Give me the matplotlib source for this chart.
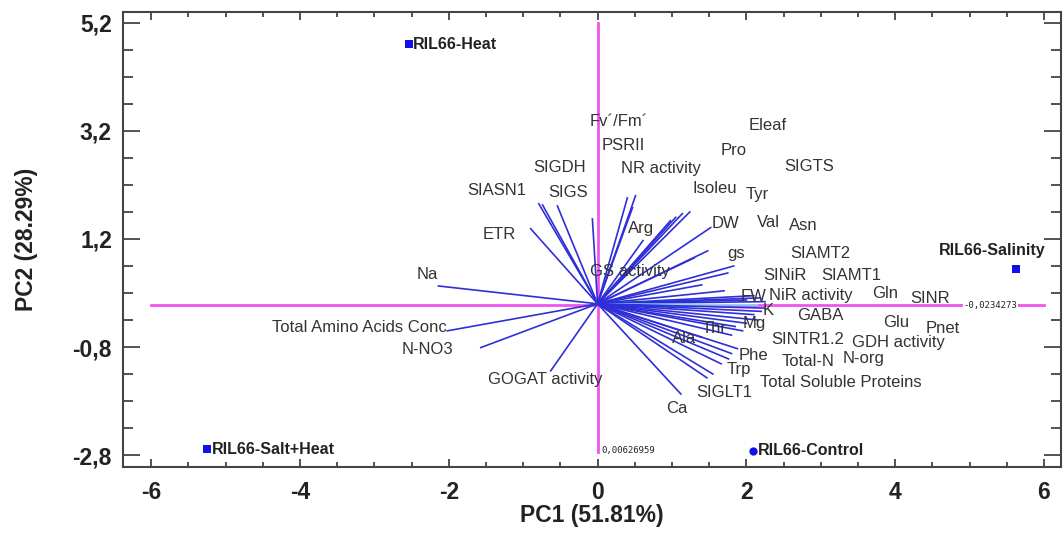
import numpy as np
import matplotlib
matplotlib.use("Agg")
import matplotlib.pyplot as plt
from matplotlib.ticker import FixedLocator, MultipleLocator

plt.rcParams['font.family'] = ['Liberation Sans', 'DejaVu Sans']

# variable loadings (vector ends) and where the software put their labels
var_names = ["Na", "Total Amino Acids Conc", "N-NO3", "GOGAT activity", "ETR",
             "SIASN1", "SIGDH", "SIGS", "GS activity", "Fv´/Fm´", "PSRII",
             "NR activity", "Arg", "Isoleu", "Eleaf", "Pro", "Tyr", "DW", "SIGTS",
             "Val", "Asn", "gs", "SIAMT2", "SINiR", "SIAMT1", "FW", "NiR activity",
             "Gln", "SINR", "K", "Pnet", "GABA", "Mg", "Glu", "Thr", "SINTR1.2",
             "GDH activity", "Ala", "Phe", "N-org", "Total-N", "Trp",
             "Total Soluble Proteins", "SIGLT1", "Ca"]
pc1_load = [-2.14, -2.02, -1.57, -0.63, -0.90,
            -0.79, -0.74, -0.54, -0.07, 0.51, 0.40,
            0.47, 0.61, 0.98, 1.14, 1.24, 1.05, 1.52, 1.48,
            1.30, 1.75, 1.83, 1.70, 1.40, 2.10, 2.19, 2.00,
            2.25, 2.15, 2.25, 2.20, 2.10, 2.15, 2.00, 1.85, 1.95,
            1.80, 1.40, 1.88, 1.80, 1.76, 1.66,
            1.55, 1.47, 1.12]
pc2_load = [0.33, -0.50, -0.81, -1.24, 1.39,
            1.85, 1.83, 1.81, 1.57, 2.00, 1.96,
            1.78, 1.17, 1.54, 1.67, 1.70, 1.60, 1.41, 0.98,
            0.85, 0.57, 0.70, 0.24, 0.35, 0.15, 0.11, 0.07,
            0.04, -0.02, -0.08, -0.14, -0.20, -0.30, -0.36, -0.42, -0.50,
            -0.58, -0.62, -0.83, -0.92, -1.02, -1.11,
            -1.30, -1.37, -1.67]

# label anchor points (data units)
label_x = [-2.29, -3.20, -2.29, -0.70, -1.32,
           -1.35, -0.51, -0.39, 0.43, 0.28, 0.35,
           0.85, 0.59, 1.57, 2.29, 1.83, 2.15, 1.72, 2.84,
           2.30, 2.77, 1.86, 2.99, 2.52, 3.41, 2.10, 2.87,
           3.86, 4.47, 2.30, 4.64, 3.00, 2.10, 4.01, 1.56, 2.82,
           4.05, 1.16, 2.10, 3.57, 2.83, 1.90,
           3.27, 1.70, 1.06]
label_y = [0.54, -0.43, -0.85, -1.41, 1.28,
           2.09, 2.52, 2.06, 0.59, 3.37, 2.93,
           2.50, 1.39, 2.13, 3.30, 2.83, 2.02, 1.48, 2.54,
           1.50, 1.44, 0.93, 0.93, 0.52, 0.52, 0.13, 0.15,
           0.19, 0.10, -0.13, -0.46, -0.22, -0.36, -0.35, -0.46, -0.66,
           -0.72, -0.64, -0.96, -1.02, -1.06, -1.22,
           -1.46, -1.65, -1.94]

# observations (scores)
obs_names = ["RIL66-Heat", "RIL66-Salinity", "RIL66-Salt+Heat", "RIL66-Control"]
obs_pc1 = [-2.54, 5.63, -5.25, 2.09]
obs_pc2 = [4.80, 0.65, -2.69, -2.72]

fig = plt.figure(figsize=(10.64, 5.39), dpi=100)
ax = fig.add_axes([0.1156, 0.1336, 0.8816, 0.8441])

# centre lines
ax.plot([-6, 6], [-0.0234273, -0.0234273], color="#ee55ee", lw=2, zorder=1)
ax.plot([0.00626959, 0.00626959], [-2.75, 5.2], color="#ee55ee", lw=2, zorder=1)
ax.text(0.05, -2.72, "0,00626959", fontsize=6.5, family="DejaVu Sans Mono",
        color="#222", va="center", ha="left")
ax.text(4.92, -0.0234273, "-0,0234273", fontsize=6.5, family="DejaVu Sans Mono",
        color="#222", va="center", ha="left",
        bbox=dict(facecolor="white", edgecolor="none", pad=0.5))

for i, name in enumerate(var_names):
    c = "#7fe0f0" if name == "SINR" else "#2f2fd8"
    ax.plot([0, pc1_load[i]], [0, pc2_load[i]], color=c, lw=1.2, zorder=2)
    ax.text(label_x[i], label_y[i], name, fontsize=12, color="#333333",
            ha="center", va="center", zorder=3)

for i, name in enumerate(obs_names):
    mk = "o" if name == "RIL66-Control" else "s"
    ax.scatter(obs_pc1[i], obs_pc2[i], marker=mk, s=36, color="#1212e8",
               zorder=4, linewidths=0)
    if name == "RIL66-Salinity":
        ax.text(obs_pc1[i] - 0.32, obs_pc2[i] + 0.33, name, fontsize=11.5,
                fontweight="bold", color="#222222", ha="center", va="center")
    else:
        ax.text(obs_pc1[i] + 0.06, obs_pc2[i], name, fontsize=11.5,
                fontweight="bold", color="#222222", ha="left", va="center")

ax.set_xlim(-6.38, 6.23)
ax.set_ylim(-3.02, 5.4)

ax.xaxis.set_major_locator(FixedLocator([-6, -4, -2, 0, 2, 4, 6]))
ax.xaxis.set_minor_locator(MultipleLocator(0.5))
ax.yaxis.set_major_locator(FixedLocator([-2.8, -0.8, 1.2, 3.2, 5.2]))
ax.yaxis.set_minor_locator(FixedLocator(np.arange(-2.8, 5.3, 0.5)))
ax.set_xticklabels(["-6", "-4", "-2", "0", "2", "4", "6"])
ax.set_yticklabels(["-2,8", "-0,8", "1,2", "3,2", "5,2"])

ax.tick_params(axis="both", which="both", direction="in", top=True, right=True,
               color="#444444", width=1.3)
ax.tick_params(axis="x", which="major", length=6, pad=10)
ax.tick_params(axis="x", which="minor", length=3.5)
ax.tick_params(axis="y", which="major", length=12, pad=8)
ax.tick_params(axis="y", which="minor", length=7)
for lab in ax.get_xticklabels() + ax.get_yticklabels():
    lab.set_fontsize(16.5)
    lab.set_fontweight("bold")
    lab.set_color("#222222")

for sp in ax.spines.values():
    sp.set_color("#444444")
    sp.set_linewidth(1.5)

ax.set_xlabel("PC1 (51.81%)", fontsize=16.5, fontweight="bold", color="#222222",
              labelpad=0)
ax.set_ylabel("PC2 (28.29%)", fontsize=16.5, fontweight="bold", color="#222222",
              labelpad=25)

fig.savefig("out.png", dpi=100)
